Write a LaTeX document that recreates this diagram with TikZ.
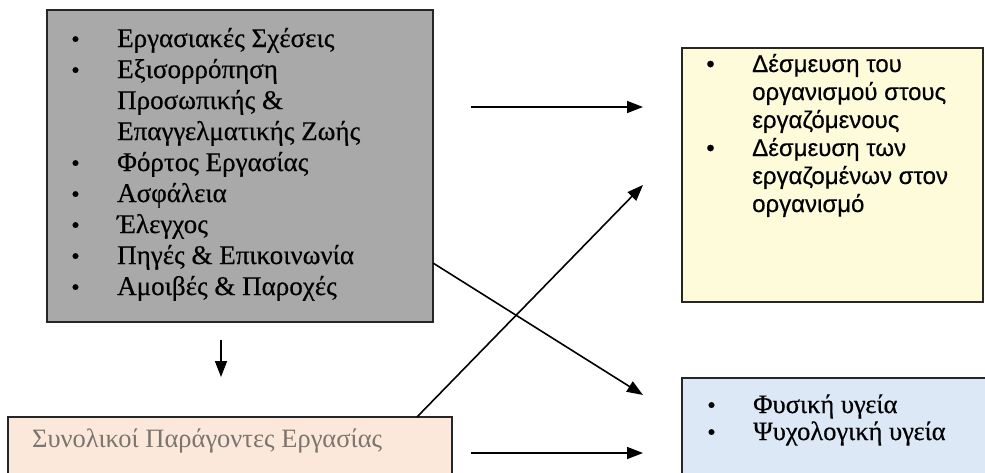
\documentclass[tikz,border=0pt]{standalone}
\usepackage{fontspec}
\setmainfont{Liberation Serif}
\newfontfamily\grsans{Liberation Sans}[FakeBold=0.4]
\newfontfamily\grheavy{Liberation Serif}[FakeBold=0.5]
\usetikzlibrary{arrows.meta}
\definecolor{greyfill}{HTML}{A9A9A9}
\definecolor{yellowfill}{HTML}{FDFBD9}
\definecolor{bluefill}{HTML}{DCE8F5}
\definecolor{peachfill}{HTML}{FBE8DA}
\definecolor{fadedtext}{HTML}{7A7570}
\newcommand{\blt}{\llap{{\fontsize{24}{24}\selectfont\textbullet}\hspace{37.5pt}}}
\begin{document}
\begin{tikzpicture}[x=1pt,y=-1pt,
  box/.style={draw=black!85,line width=1.5pt,inner sep=0pt,outer sep=0pt,anchor=north west},
  sline/.style={anchor=base west,inner sep=0pt,font=\grheavy\fontsize{27}{31}\selectfont},
  bline/.style={anchor=base west,inner sep=0pt,font=\grheavy\fontsize{26.5}{27}\selectfont},
  aline/.style={anchor=base west,inner sep=0pt,font=\grsans\fontsize{24}{28}\selectfont},
  conn/.style={line width=1.6pt,-{Triangle[length=16pt,width=12pt]}}]
\useasboundingbox (0,0) rectangle (985,472);
\clip (0,0) rectangle (985,472);
\fill[white] (0,0) rectangle (985,472);
% boxes
\node[box,fill=greyfill,minimum width=386pt,minimum height=312pt] (grey) at (47,10) {};
\node[box,fill=yellowfill,minimum width=301pt,minimum height=254pt] (yellow) at (682,48) {};
\node[box,fill=bluefill,minimum width=320pt,minimum height=120pt] (blue) at (682,378) {};
\node[box,fill=peachfill,minimum width=444pt,minimum height=80pt] (peach) at (8,417) {};
% grey box text
\node[sline] (g1) at (117,47) {\blt Εργασιακές Σχέσεις};
\node[sline] (g2) at (117,78) {\blt Εξισορρόπηση};
\node[sline] (g3) at (117,109) {Προσωπικής \&};
\node[sline] (g4) at (117,140) {Επαγγελματικής Ζωής};
\node[sline] (g5) at (117,171) {\blt Φόρτος Εργασίας};
\node[sline] (g6) at (117,202) {\blt Ασφάλεια};
\node[sline] (g7) at (117,233) {\blt Έλεγχος};
\node[sline] (g8) at (117,264) {\blt Πηγές \& Επικοινωνία};
\node[sline] (g9) at (117,295) {\blt Αμοιβές \& Παροχές};
% yellow box text
\node[aline] (y1) at (752,72) {\blt Δέσμευση του};
\node[aline] (y2) at (752,100) {οργανισμού στους};
\node[aline] (y3) at (752,128) {εργαζόμενους};
\node[aline] (y4) at (752,156) {\blt Δέσμευση των};
\node[aline] (y5) at (752,184) {εργαζομένων στον};
\node[aline] (y6) at (752,212) {οργανισμό};
% blue box text
\node[bline] (b1) at (753,413) {\blt Φυσική υγεία};
\node[bline] (b2) at (753,440) {\blt Ψυχολογική υγεία};
% peach box text
\node[sline,text=fadedtext,font=\fontsize{26.5}{31}\selectfont] (p1) at (32,447) {Συνολικοί Παράγοντες Εργασίας};
% connector ends
\coordinate (t1s) at (471,107);
\coordinate (t1e) at (643,107);
\coordinate (ups) at (417,417);
\coordinate (upe) at (643,185);
\coordinate (dns) at (433,263);
\coordinate (dne) at (643,395);
\coordinate (b1s) at (471,453);
\coordinate (b1e) at (643,453);
\coordinate (vds) at (221,340);
\coordinate (vde) at (221,377);
\draw[conn] (t1s) -- (t1e);
\draw[conn] (ups) -- (upe);
\draw[conn] (dns) -- (dne);
\draw[conn] (b1s) -- (b1e);
\draw[conn] (vds) -- (vde);
\end{tikzpicture}
\end{document}
